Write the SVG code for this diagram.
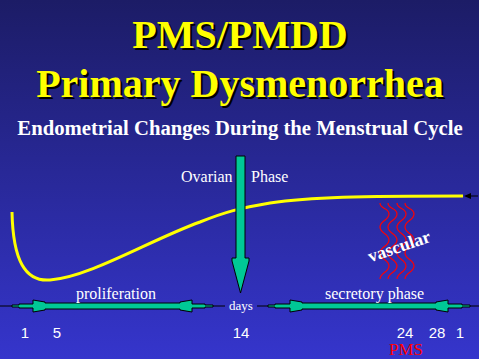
<svg xmlns="http://www.w3.org/2000/svg" width="479" height="359" viewBox="0 0 479 359">
<defs>
<linearGradient id="bg" x1="0" y1="0" x2="0" y2="1">
<stop offset="0" stop-color="#1c1c66"/>
<stop offset="1" stop-color="#3535cc"/>
</linearGradient>
<path id="wv" d="M0,203 C0,209.5 9,207.5 9,214 C9,220.5 0,220.5 0,227 C0,233.5 9,233.5 9,240 C9,246.5 0,246.5 0,253 C0,259.5 9,259.5 9,266 C9,272.5 0,272.5 0,279"/>
</defs>
<style>
.grn{fill:#00c896;stroke:#000;stroke-width:1}
.wave{fill:none;stroke:#ff0000;stroke-width:1.2}
.thin{stroke:#000;stroke-width:1}
</style>
<rect width="479" height="359" fill="url(#bg)"/>
<g id="title" font-family="'Liberation Serif', 'Times New Roman', serif" font-weight="bold" text-anchor="middle">
<text x="242" y="50" font-size="40" fill="#000">PMS/PMDD</text>
<text x="240" y="48" font-size="40" fill="#ffff00">PMS/PMDD</text>
<text x="242" y="99" font-size="40" fill="#000">Primary Dysmenorrhea</text>
<text x="240" y="97" font-size="40" fill="#ffff00">Primary Dysmenorrhea</text>
<text x="240" y="135" font-size="20.7" fill="#fff">Endometrial Changes During the Menstrual Cycle</text>
</g>
<g id="curve">
<path d="M12,212 C13,260 25,282 50,280 C90,277 150,240 200,222 C225,212 240,208 270,203 C310,197 360,196 463,196" fill="none" stroke="#ffff00" stroke-width="3"/>
<line class="thin" x1="466" y1="196" x2="478" y2="196"/>
<polygon points="464,196 471,193 471,199" fill="#000"/>
</g>
<g id="ovarian-phase" font-family="'Liberation Serif', 'Times New Roman', serif" font-size="16" fill="#fff">
<text x="181" y="182">Ovarian</text>
<text x="251" y="182">Phase</text>
<polygon class="grn" points="236,156 245,156 245,258 249,258 249,261 240.5,293 232,261 232,258 236,258"/>
</g>
<g id="vascular">
<use href="#wv" class="wave" x="380"/>
<use href="#wv" class="wave" x="388"/>
<use href="#wv" class="wave" x="397"/>
<use href="#wv" class="wave" x="405"/>
<text x="401" y="252" transform="rotate(-19 401 252)" font-family="'Liberation Serif', 'Times New Roman', serif" font-weight="bold" font-size="18" fill="#fff" text-anchor="middle">vascular</text>
</g>
<g id="proliferation">
<line class="thin" x1="0" y1="306" x2="13" y2="306"/>
<line class="thin" x1="212" y1="306" x2="225" y2="306"/>
<polygon class="grn" points="12,305 19,305 19,304 33,304 33,300 45,302 45,303 180,303 180,302 192,300 192,304 205,304 205,305 213,305 213,307 205,307 205,308 192,308 192,312 180,310 180,309 45,309 45,310 33,312 33,308 19,308 19,307 12,307"/>
<text x="76" y="299" font-family="'Liberation Serif', 'Times New Roman', serif" font-size="16" fill="#fff">proliferation</text>
</g>
<g id="days">
<text x="229" y="310" font-family="'Liberation Serif', 'Times New Roman', serif" font-size="13" fill="#fff">days</text>
</g>
<g id="secretory">
<line class="thin" x1="257" y1="306" x2="269" y2="306"/>
<line class="thin" x1="469" y1="306" x2="479" y2="306"/>
<polygon class="grn" points="268,305 275,305 275,304 290,304 290,300 302,302 302,303 436,303 436,302 448,300 448,304 462,304 462,305 470,305 470,307 462,307 462,308 448,308 448,312 436,310 436,309 302,309 302,310 290,312 290,308 275,308 275,307 268,307"/>
<text x="325" y="299" font-family="'Liberation Serif', 'Times New Roman', serif" font-size="16" fill="#fff">secretory phase</text>
</g>
<g id="numbers" font-family="'Liberation Sans', Arial, sans-serif" font-size="15" fill="#fff" text-anchor="middle">
<text x="25" y="338">1</text>
<text x="57" y="338">5</text>
<text x="241" y="338">14</text>
<text x="405" y="338">24</text>
<text x="437" y="338">28</text>
<text x="460" y="338">1</text>
<text x="389" y="355" font-family="'Liberation Serif', 'Times New Roman', serif" font-size="17" fill="#ff0000" text-anchor="start">PMS</text>
</g>
</svg>
